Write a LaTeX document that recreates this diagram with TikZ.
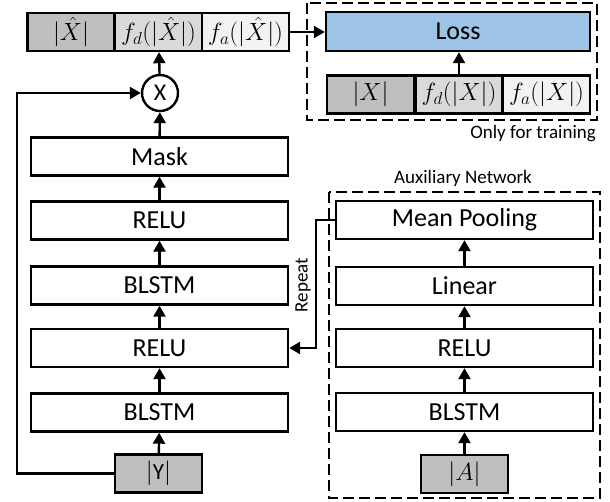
\documentclass[tikz,border=0pt]{standalone}
\usepackage{fontspec}
\setmainfont{Carlito}
\usetikzlibrary{arrows.meta,positioning}
\definecolor{gdark}{HTML}{BFBFBF}
\definecolor{gmid}{HTML}{D9D9D9}
\definecolor{glight}{HTML}{F2F2F2}
\definecolor{lossblue}{HTML}{9DC3E6}
\tikzset{
  layer/.style={draw, line width=2.4pt, fill=white, minimum width=257pt, minimum height=38pt, inner sep=0pt, font=\fontsize{26}{28}\selectfont},
  cell/.style={draw, line width=2.4pt, minimum width=87pt, minimum height=38pt, inner sep=0pt, font=\fontsize{23}{26}\selectfont},
  conn/.style={line width=2.4pt, -{Triangle[length=11pt,width=12pt]}},
  dashbox/.style={draw, line width=2.6pt, dash pattern=on 11pt off 5pt},
  small/.style={font=\fontsize{19}{21}\selectfont, inner sep=0pt},
}
\begin{document}
\begin{tikzpicture}[x=1pt,y=-1pt]
\useasboundingbox (0,0) rectangle (610,502);
% dashed boxes
\draw[dashbox] (307,3) rectangle (597,120);
\draw[dashbox] (329,192) rectangle (600,498);
% top-left output row
\node[cell, fill=gdark] (xh) at (71,32) {$|\hat{X}|$};
\node[cell, fill=gmid] (fdh) at (158.5,32) {$f_d(|\hat{X}|)$};
\node[cell, fill=glight] (fah) at (245.5,32) {$f_a(|\hat{X}|)$};
% loss
\node[draw, line width=2.4pt, fill=lossblue, minimum width=264pt, minimum height=39pt, inner sep=0pt, font=\fontsize{26}{28}\selectfont] (loss) at (458,31.5) {Loss};
\node[cell, fill=gdark] (x) at (370.5,94.5) {$|X|$};
\node[cell, fill=gmid] (fd) at (459,94.5) {$f_d(|X|)$};
\node[cell, fill=glight] (fa) at (546.5,94.5) {$f_a(|X|)$};
\node[small, anchor=north east] (train) at (596,125) {Only for training};
% main column
\node[draw, circle, line width=2.4pt, minimum size=36pt, inner sep=0pt, font=\fontsize{24}{26}\selectfont] (mul) at (160,93) {X};
\node[layer] (mask) at (159.5,156.5) {Mask};
\node[layer] (relu1) at (159.5,220.5) {RELU};
\node[layer] (blstm1) at (159.5,285.5) {BLSTM};
\node[layer] (relu2) at (159.5,348) {RELU};
\node[layer] (blstm2) at (159.5,412.5) {BLSTM};
\node[cell, fill=gdark] (y) at (158.5,473.5) {$|\mathrm{Y}|$};
% auxiliary column
\node[small] (auxlab) at (463,178) {Auxiliary Network};
\node[layer] (pool) at (464.5,220) {Mean Pooling};
\node[layer] (lin) at (464.5,286) {Linear};
\node[layer] (arelu) at (464.5,348) {RELU};
\node[layer] (ablstm) at (464.5,412) {BLSTM};
\node[cell, fill=gdark] (a) at (464.5,474) {$|A|$};
% connectors
\draw[conn] (y) -- (blstm2);
\draw[conn] (blstm2) -- (relu2);
\draw[conn] (relu2) -- (blstm1);
\draw[conn] (blstm1) -- (relu1);
\draw[conn] (relu1) -- (mask);
\draw[conn] (mask) -- (mul);
\draw[conn] (mul) -- (fdh);
\draw[conn] (y.west) -- (17,473.5) -- (17,93) -- (mul.west);
\draw[conn] (a) -- (ablstm);
\draw[conn] (ablstm) -- (arelu);
\draw[conn] (arelu) -- (lin);
\draw[conn] (lin) -- (pool);
\draw[conn] (fah.east) -- (loss.west |- fah.east);
\draw[conn] (fd) -- (fd.north |- loss.south);
\draw[conn] (pool.west) -- (316,220) -- (316,348) -- (relu2.east);
\node[small, rotate=90] (rep) at (303,285) {Repeat};
\end{tikzpicture}
\end{document}
